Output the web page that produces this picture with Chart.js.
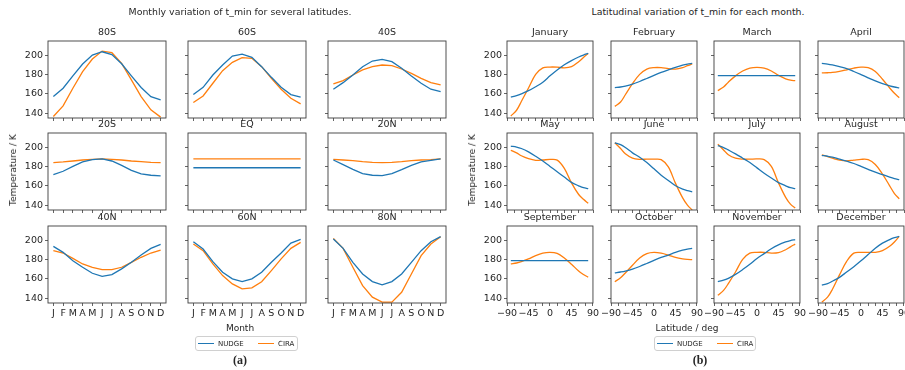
<!DOCTYPE html>
<html>
<head>
<meta charset="utf-8">
<script src="https://cdn.jsdelivr.net/npm/chart.js@4.4.1/dist/chart.umd.min.js"></script>
<style>
    html, body { margin: 0; padding: 0; background: #fff; overflow: hidden; }
    #page { position: relative; width: 905px; height: 370px; font-family: "DejaVu Sans", sans-serif; color: #262626; }
    #page canvas { position: absolute; }
    .txt { position: absolute; white-space: nowrap; transform: translate(-50%, -50%); }
    .ylab { transform: translate(-50%, -50%) rotate(-90deg); }
    .legend { position: absolute; border: 1px solid #d0d0d0; border-radius: 3px; height: 13px; font-size: 7px; }
    .legend span { position: absolute; top: 50%; transform: translateY(-50%); }
    .legend i { position: absolute; top: 6px; height: 1.3px; width: 16px; }
    .panel-tag { font-family: "Liberation Serif", serif; font-weight: bold; font-size: 12px; }
</style>
</head>
<body>
<div id="page"></div>
<script>
    // ---- data -----------------------------------------------------------
    var seriesNames = ['NUDGE', 'CIRA'];
    var seriesColors = ['#1f77b4', '#ff7f0e'];

    var monthLetters = ['J', 'F', 'M', 'A', 'M', 'J', 'J', 'A', 'S', 'O', 'N', 'D'];
    var latNames = ['80S', '60S', '40S', '20S', 'EQ', '20N', '40N', '60N', '80N'];

    var nudge80S = [157.1, 165.7, 178.4, 190.7, 200.0, 203.4, 200.5, 191.0, 178.5, 166.5, 157.0, 153.7];
    var cira80S  = [136.6, 147.5, 165.7, 182.9, 195.9, 204.1, 202.4, 191.4, 174.3, 157.1, 143.4, 135.9];
    var nudge60S = [159.2, 166.7, 179.4, 189.7, 199.0, 201.0, 197.6, 188.0, 177.0, 166.7, 159.2, 156.5];
    var cira60S  = [151.0, 157.8, 170.9, 183.9, 192.5, 197.3, 196.6, 188.0, 176.0, 164.7, 155.4, 149.6];
    var nudge40S = [164.7, 171.5, 179.4, 188.0, 193.8, 195.5, 193.1, 186.3, 178.4, 170.9, 164.7, 162.3];
    var cira40S  = [170.2, 173.6, 179.4, 184.6, 188.0, 189.7, 189.0, 185.6, 181.1, 176.0, 171.5, 169.1];
    var nudge20S = [171.5, 175.0, 180.1, 184.6, 187.0, 187.7, 185.6, 181.1, 176.0, 172.2, 170.9, 170.2];
    var cira20S  = [183.9, 184.6, 185.6, 186.6, 187.3, 187.7, 187.3, 186.6, 185.6, 184.9, 184.2, 183.9];
    var nudgeEQ  = [178.6, 178.6, 178.6, 178.6, 178.6, 178.6, 178.6, 178.6, 178.6, 178.6, 178.6, 178.6];
    var ciraEQ   = [187.7, 187.7, 187.7, 187.7, 187.7, 187.7, 187.7, 187.7, 187.7, 187.7, 187.7, 187.7];
    var nudge20N = [186.6, 181.8, 177.0, 172.6, 170.9, 170.5, 172.6, 176.7, 181.1, 184.6, 186.3, 187.7];
    var cira20N  = [187.3, 186.6, 185.9, 184.9, 184.2, 183.9, 184.2, 184.9, 185.9, 186.6, 187.0, 187.7];
    var nudge40N = [193.5, 187.3, 178.7, 171.9, 165.7, 162.6, 164.3, 170.2, 177.0, 184.6, 191.4, 195.5];
    var cira40N  = [189.0, 186.6, 181.1, 175.3, 171.9, 169.5, 169.5, 171.9, 177.0, 182.2, 186.6, 189.7];
    var nudge60N = [198.3, 190.7, 177.7, 166.7, 159.9, 157.0, 159.9, 166.7, 177.0, 186.6, 196.9, 200.7];
    var cira60N  = [195.9, 189.0, 175.3, 163.3, 154.7, 149.6, 150.6, 157.0, 168.5, 180.5, 191.4, 197.6];
    var nudge80N = [201.0, 191.4, 177.0, 165.0, 157.1, 153.7, 157.1, 165.0, 177.0, 189.0, 198.3, 203.5];
    var cira80N  = [201.7, 191.4, 171.9, 153.0, 141.0, 135.9, 135.9, 146.1, 165.0, 183.9, 195.9, 203.5];

    var monthNames = ['January', 'February', 'March', 'April', 'May', 'June', 'July',
        'August', 'September', 'October', 'November', 'December'];
    var lats = [-82, -70, -60, -45, -30, -15, 0, 15, 30, 45, 60, 70, 80];

    var nudgeJan = [156.6, 158.2, 160.0, 163.2, 167.3, 172.0, 178.5, 184.6, 190.0, 194.3, 198.0, 200.0, 201.7];
    var ciraJan  = [137.0, 143.0, 152.0, 166.0, 180.0, 186.8, 187.6, 187.5, 186.8, 188.0, 193.0, 197.5, 201.7];
    var nudgeFeb = [166.4, 167.0, 168.0, 170.0, 172.7, 175.8, 179.0, 182.0, 184.7, 187.3, 189.6, 190.7, 191.4];
    var ciraFeb  = [147.0, 151.5, 159.0, 170.5, 180.0, 185.5, 187.0, 187.0, 186.0, 185.5, 187.0, 189.0, 190.8];
    var nudgeMar = [178.7, 178.7, 178.7, 178.7, 178.7, 178.7, 178.7, 178.7, 178.7, 178.7, 178.7, 178.7, 178.7];
    var ciraMar  = [163.3, 167.0, 172.0, 178.5, 183.5, 186.5, 187.3, 186.5, 183.5, 179.0, 175.5, 174.0, 173.5];
    var nudgeApr = [191.4, 190.7, 189.8, 188.0, 186.0, 183.0, 179.8, 176.5, 173.3, 170.5, 168.2, 167.0, 166.2];
    var ciraApr  = [181.5, 181.7, 182.0, 183.2, 184.8, 186.5, 187.5, 187.0, 183.0, 175.0, 166.0, 160.5, 156.0];
    var nudgeMay = [201.0, 200.0, 198.5, 195.0, 190.5, 185.5, 180.0, 174.5, 169.0, 163.5, 160.0, 158.0, 157.0];
    var ciraMay  = [196.6, 194.0, 191.0, 188.0, 186.3, 186.6, 187.2, 186.5, 178.0, 163.0, 151.0, 146.0, 142.0];
    var nudgeJun = [204.4, 202.5, 199.5, 194.0, 189.5, 184.0, 177.5, 171.0, 165.5, 160.0, 156.5, 155.0, 153.8];
    var ciraJun  = [204.4, 198.5, 193.0, 188.5, 187.3, 187.5, 187.5, 187.0, 179.5, 162.5, 147.5, 140.0, 135.0];
    var nudgeJul = [201.5, 199.5, 197.0, 193.0, 188.5, 184.0, 178.5, 173.0, 168.0, 163.3, 160.0, 158.0, 157.0];
    var ciraJul  = [203.0, 197.0, 192.0, 188.5, 187.5, 187.5, 187.7, 187.0, 180.0, 163.0, 148.0, 141.0, 137.0];
    var nudgeAug = [191.5, 190.5, 189.5, 187.5, 185.5, 183.0, 180.0, 177.0, 174.0, 171.5, 169.0, 167.5, 166.3];
    var ciraAug  = [192.0, 190.0, 188.5, 186.5, 185.7, 186.5, 187.3, 187.0, 182.0, 172.0, 160.0, 152.0, 146.5];
    var nudgeSep = [178.7, 178.7, 178.7, 178.7, 178.7, 178.7, 178.7, 178.7, 178.7, 178.7, 178.7, 178.7, 178.7];
    var ciraSep  = [175.3, 176.3, 177.7, 180.5, 184.0, 186.5, 187.3, 186.2, 181.5, 175.0, 168.0, 164.5, 161.6];
    var nudgeOct = [166.0, 167.0, 168.0, 170.0, 172.7, 175.8, 179.0, 182.0, 184.5, 187.2, 189.5, 190.7, 191.4];
    var ciraOct  = [157.0, 161.0, 166.0, 174.0, 181.5, 186.0, 187.3, 186.5, 184.5, 182.0, 180.5, 180.0, 179.8];
    var nudgeNov = [157.0, 158.5, 160.5, 164.5, 169.5, 175.0, 181.0, 186.0, 191.0, 195.0, 198.0, 199.5, 200.5];
    var ciraNov  = [143.0, 148.0, 155.0, 167.0, 180.0, 186.5, 187.3, 187.3, 186.5, 187.0, 190.0, 193.0, 195.8];
    var nudgeDec = [153.5, 155.0, 157.5, 161.5, 167.0, 172.5, 178.5, 185.0, 191.5, 196.8, 200.5, 202.5, 203.8];
    var ciraDec  = [136.0, 141.0, 149.0, 164.0, 178.0, 186.5, 187.3, 187.3, 187.3, 189.0, 193.5, 198.0, 203.8];

    var tempTicks = [140, 160, 180, 200];
    var latTicks = [-90, -75, -60, -45, -30, -15, 0, 15, 30, 45, 60, 75, 90];

    var latNudge = [nudge80S, nudge60S, nudge40S, nudge20S, nudgeEQ, nudge20N, nudge40N, nudge60N, nudge80N];
    var latCira = [cira80S, cira60S, cira40S, cira20S, ciraEQ, cira20N, cira40N, cira60N, cira80N];
    var monthNudge = [nudgeJan, nudgeFeb, nudgeMar, nudgeApr, nudgeMay, nudgeJun,
        nudgeJul, nudgeAug, nudgeSep, nudgeOct, nudgeNov, nudgeDec];
    var monthCira = [ciraJan, ciraFeb, ciraMar, ciraApr, ciraMay, ciraJun,
        ciraJul, ciraAug, ciraSep, ciraOct, ciraNov, ciraDec];

    // ---- layout ---------------------------------------------------------
    var FONT = '"DejaVu Sans", sans-serif';
    var page = document.getElementById('page');
    var rowTops = [41, 133, 226];
    var boxH = 77;
    var yAxisW = 34, titleH = 14, padRight = 8;

    Chart.defaults.font.family = FONT;
    Chart.defaults.color = '#262626';

    // matplotlib-style full box around each axes
    var framePlugin = {
        id: 'frame',
        afterDraw: function (chart) {
            var a = chart.chartArea, ctx = chart.ctx;
            ctx.save();
            ctx.strokeStyle = '#3d3d3d';
            ctx.lineWidth = 0.9;
            ctx.strokeRect(a.left, a.top, a.right - a.left, a.bottom - a.top);
            ctx.restore();
        }
    };

    function tickGrid() {
        return {drawOnChartArea: false, drawTicks: true, tickLength: 3, color: '#3d3d3d', lineWidth: 0.8};
    }

    function fmtLat(v) {
        return v < 0 ? '\u2212' + Math.abs(v) : String(v);
    }

    function makeAxes(o) {
        var xH = o.bottomRow ? 24 : 8;
        var canvas = document.createElement('canvas');
        canvas.width = yAxisW + o.boxW + padRight;
        canvas.height = titleH + boxH + xH;
        canvas.style.left = (o.boxX - yAxisW) + 'px';
        canvas.style.top = (o.boxY - titleH) + 'px';
        page.appendChild(canvas);

        var datasets = [o.nudge, o.cira].map(function (ys, k) {
            return {
                label: seriesNames[k],
                data: ys.map(function (y, i) { return {x: o.xs[i], y: y}; }),
                borderColor: seriesColors[k],
                backgroundColor: seriesColors[k],
                borderWidth: 1.3,
                pointRadius: 0,
                fill: false,
                tension: o.smooth ? 0.35 : 0
            };
        });

        return new Chart(canvas.getContext('2d'), {
            type: 'line',
            data: {datasets: datasets},
            options: {
                responsive: false, animation: false, events: [],
                layout: {padding: {top: 0, left: 0, bottom: 0, right: padRight}},
                plugins: {
                    legend: {display: false},
                    tooltip: {enabled: false},
                    title: {
                        display: true, text: o.title, fullSize: false,
                        font: {size: 9.5, weight: 'normal', lineHeight: '12px'},
                        padding: {top: 0, bottom: 2}, color: '#262626'
                    }
                },
                scales: {
                    x: {
                        type: 'linear', min: o.xMin, max: o.xMax,
                        afterBuildTicks: function (axis) {
                            axis.ticks = o.xTicks.map(function (v) { return {value: v}; });
                        },
                        afterFit: function (scale) { scale.height = xH; },
                        border: {display: false},
                        grid: tickGrid(),
                        ticks: {
                            display: o.bottomRow, autoSkip: false, maxRotation: 0, padding: 2,
                            font: {size: 9.5}, callback: o.xLabel
                        }
                    },
                    y: {
                        min: 135, max: 214.5,
                        afterBuildTicks: function (axis) {
                            axis.ticks = tempTicks.map(function (v) { return {value: v}; });
                        },
                        afterFit: function (scale) { scale.width = yAxisW; },
                        border: {display: false},
                        grid: tickGrid(),
                        ticks: {display: o.firstCol, padding: 2, font: {size: 9.5}}
                    }
                }
            },
            plugins: [framePlugin]
        });
    }

    // monthly variation, one axes per latitude band
    var leftCols = [48, 188, 328];
    var monthIdx = monthLetters.map(function (m, i) { return i; });
    latNames.forEach(function (name, i) {
        var r = Math.floor(i / 3), c = i % 3;
        makeAxes({
            boxX: leftCols[c], boxY: rowTops[r], boxW: 118,
            title: name, xs: monthIdx, nudge: latNudge[i], cira: latCira[i],
            xMin: -0.55, xMax: 11.55, xTicks: monthIdx,
            xLabel: function (v, idx) { return monthLetters[idx]; },
            bottomRow: r === 2, firstCol: c === 0, smooth: false
        });
    });

    // latitudinal variation, one axes per month
    var rightCols = [507, 611, 714, 818];
    monthNames.forEach(function (name, i) {
        var r = Math.floor(i / 4), c = i % 4;
        makeAxes({
            boxX: rightCols[c], boxY: rowTops[r], boxW: 86,
            title: name, xs: lats, nudge: monthNudge[i], cira: monthCira[i],
            xMin: -90, xMax: 90, xTicks: latTicks,
            xLabel: function (v) { return v % 45 === 0 ? fmtLat(v) : ''; },
            bottomRow: r === 2, firstCol: c === 0, smooth: true
        });
    });

    // ---- figure text & legends -----------------------------------------
    function addText(txt, x, y, size, cls) {
        var d = document.createElement('div');
        d.className = 'txt' + (cls ? ' ' + cls : '');
        d.textContent = txt;
        d.style.left = x + 'px';
        d.style.top = y + 'px';
        if (size) d.style.fontSize = size + 'px';
        page.appendChild(d);
    }

    function addLegend(x, y, w) {
        var box = document.createElement('div');
        box.className = 'legend';
        box.style.left = x + 'px';
        box.style.top = y + 'px';
        box.style.width = w + 'px';
        var offs = [[2, 22], [62, 82]];
        seriesNames.forEach(function (n, k) {
            var line = document.createElement('i');
            line.style.left = offs[k][0] + 'px';
            line.style.background = seriesColors[k];
            var lab = document.createElement('span');
            lab.style.left = offs[k][1] + 'px';
            lab.textContent = n;
            box.appendChild(line);
            box.appendChild(lab);
        });
        page.appendChild(box);
    }

    addText('Monthly variation of t_min for several latitudes.', 240, 11, 9.4);
    addText('Latitudinal variation of t_min for each month.', 698, 11, 9.4);
    addText('Temperature / K', 13, 170, 9, 'ylab');
    addText('Temperature / K', 472, 170, 9, 'ylab');
    addText('Month', 240, 328, 9);
    addText('Latitude / deg', 687, 328, 9);
    addLegend(195, 336, 101);
    addLegend(654, 336, 100);
    addText('(a)', 240, 360, null, 'panel-tag');
    addText('(b)', 700, 360, null, 'panel-tag');
</script>
</body>
</html>
